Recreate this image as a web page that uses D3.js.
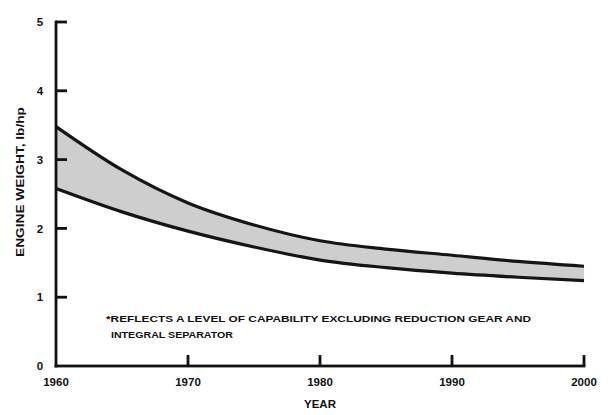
<!DOCTYPE html>
<html>
<head>
<meta charset="utf-8">
<script src="https://cdn.jsdelivr.net/npm/d3@7"></script>
<style>
  body { margin: 0; background: #fff; }
  svg text { font-family: "Liberation Sans", Arial, sans-serif; font-weight: bold; fill: #111; }
</style>
</head>
<body>
<svg id="chart" width="611" height="415"></svg>
<script>
// values (lb/hp)
const years = [1960, 1965, 1970, 1975, 1980, 1985, 1990, 1995, 2000];
const upperBound = [3.48, 2.85, 2.37, 2.05, 1.82, 1.70, 1.61, 1.52, 1.45];
const lowerBound = [2.58, 2.24, 1.96, 1.73, 1.54, 1.43, 1.35, 1.29, 1.24];
const xTicks = [1960, 1970, 1980, 1990, 2000];
const yTicks = [0, 1, 2, 3, 4, 5];
const footnote = [
    "*REFLECTS A LEVEL OF CAPABILITY EXCLUDING REDUCTION GEAR AND",
    "INTEGRAL SEPARATOR"
];

const svg = d3.select("#chart");
const x = d3.scaleLinear().domain([1960, 2000]).range([56, 584]);
const y = d3.scaleLinear().domain([0, 5]).range([366, 22]);
const ink = "#111";
const tickLen = 11, axisW = 2.8;

const rows = years.map((yr, i) => ({ year: yr, hi: upperBound[i], lo: lowerBound[i] }));

// shaded band between the two bounds
const area = d3.area()
    .x(d => x(d.year))
    .y0(d => y(d.lo))
    .y1(d => y(d.hi))
    .curve(d3.curveMonotoneX);
svg.append("path").datum(rows)
    .attr("d", area)
    .attr("fill", "#cecece");

const lineHi = d3.line().x(d => x(d.year)).y(d => y(d.hi)).curve(d3.curveMonotoneX);
const lineLo = d3.line().x(d => x(d.year)).y(d => y(d.lo)).curve(d3.curveMonotoneX);
[lineHi, lineLo].forEach(gen => {
    svg.append("path").datum(rows)
        .attr("d", gen)
        .attr("fill", "none")
        .attr("stroke", "#151515")
        .attr("stroke-width", 3.2);
});

// axis frame
svg.append("rect")
    .attr("x", x(1960) - axisW / 2).attr("y", y(5) - axisW / 2)
    .attr("width", axisW).attr("height", y(0) - y(5) + axisW)
    .attr("fill", ink);
svg.append("rect")
    .attr("x", x(1960) - axisW / 2).attr("y", y(0) - axisW / 2)
    .attr("width", x(2000) - x(1960) + axisW).attr("height", axisW)
    .attr("fill", ink);

// y ticks pointing inward
svg.selectAll("rect.ytick").data(yTicks.filter(d => d > 0)).join("rect")
    .attr("class", "ytick")
    .attr("x", x(1960)).attr("y", d => y(d) - axisW / 2)
    .attr("width", tickLen).attr("height", axisW)
    .attr("fill", ink);
svg.selectAll("text.ylab").data(yTicks).join("text")
    .attr("class", "ylab")
    .attr("x", x(1960) - 16)
    .attr("y", d => y(d)).attr("dy", "0.36em")
    .attr("text-anchor", "middle")
    .style("font-size", "11.5px")
    .text(d => d);

// x ticks pointing up
svg.selectAll("rect.xtick").data(xTicks.filter(d => d > 1960)).join("rect")
    .attr("class", "xtick")
    .attr("x", d => x(d) - axisW / 2).attr("y", y(0) - tickLen)
    .attr("width", axisW).attr("height", tickLen)
    .attr("fill", ink);
svg.selectAll("text.xlab").data(xTicks).join("text")
    .attr("class", "xlab")
    .attr("x", d => x(d)).attr("y", y(0) + 20)
    .attr("text-anchor", "middle")
    .style("font-size", "11.5px")
    .text(d => d);

svg.append("text")
    .attr("x", 320).attr("y", 408)
    .attr("text-anchor", "middle")
    .style("font-size", "11.5px")
    .text("YEAR");

svg.append("text")
    .attr("transform", "translate(24,182) rotate(-90)")
    .attr("text-anchor", "middle")
    .style("font-size", "11px")
    .attr("textLength", 150)
    .attr("lengthAdjust", "spacingAndGlyphs")
    .text("ENGINE WEIGHT, lb/hp");

svg.append("text")
    .attr("x", 106).attr("y", 322)
    .style("font-size", "8.5px")
    .attr("textLength", 425)
    .attr("lengthAdjust", "spacingAndGlyphs")
    .text(footnote[0]);
svg.append("text")
    .attr("x", 111).attr("y", 338)
    .style("font-size", "8.5px")
    .attr("textLength", 122)
    .attr("lengthAdjust", "spacingAndGlyphs")
    .text(footnote[1]);
</script>
</body>
</html>
